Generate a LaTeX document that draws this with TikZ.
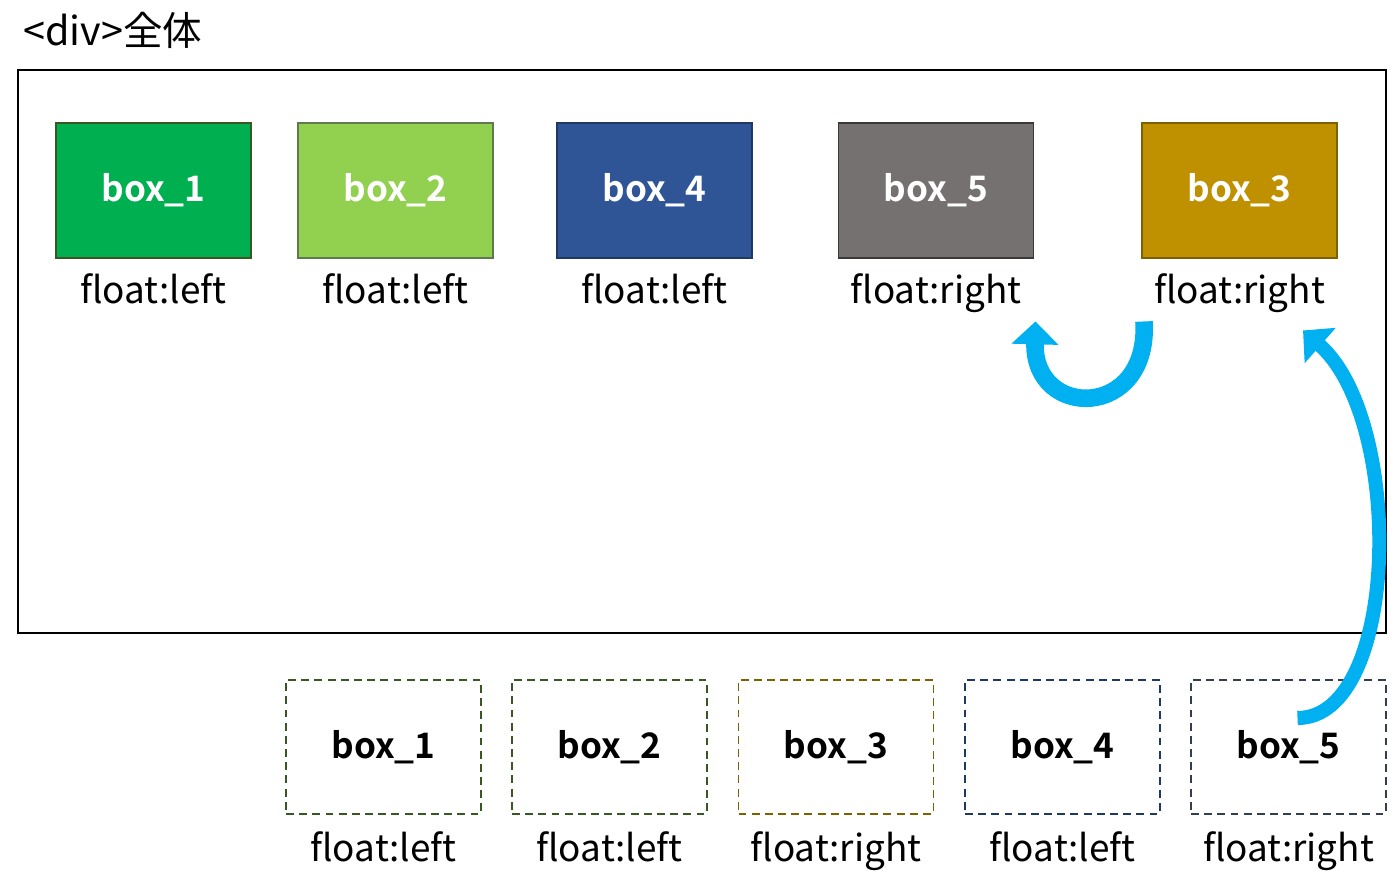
\documentclass[tikz,border=0pt]{standalone}
\usepackage{fontspec}
\setmainfont{Noto Sans CJK JP}[BoldFont={Noto Sans CJK JP Bold}]
\usepackage{xcolor}
\usetikzlibrary{arrows.meta,positioning}

\definecolor{boxgreen}{HTML}{00B050}
\definecolor{boxlime}{HTML}{92D050}
\definecolor{boxblue}{HTML}{2F5597}
\definecolor{boxgray}{HTML}{767171}
\definecolor{boxgold}{HTML}{BF9000}
\definecolor{edgegreen}{HTML}{385723}
\definecolor{edgeblue}{HTML}{203864}
\definecolor{edgegray}{HTML}{3B3838}
\definecolor{edgegold}{HTML}{7F6000}
\definecolor{edgeslate}{HTML}{333F50}
\definecolor{arrowblue}{HTML}{00B0F0}

\tikzset{
	fillbox/.style={draw, line width=1pt, minimum width=3.9cm, minimum height=2.7cm,
		font=\fontsize{20}{24}\selectfont\bfseries, text=white},
	dashbox/.style={draw, line width=1.1pt, dash pattern=on 4.5pt off 3pt,
		minimum width=3.9cm, minimum height=2.68cm, font=\fontsize{20}{24}\selectfont\bfseries},
	floatlbl/.style={font=\fontsize{21}{25}\selectfont, inner sep=1pt},
	bigarrow/.style={color=arrowblue, -{Triangle[width=26pt,length=13pt]}}
}

\begin{document}
\begin{tikzpicture}[x=0.02cm,y=-0.02cm]
			\useasboundingbox (0,0) rectangle (1395,895);
			\node[anchor=base west, inner sep=0pt, font=\fontsize{22.5}{26}\selectfont] (title) at (23,46) {<div>全体};
			\node[draw, line width=1.5pt, minimum width=27.36cm, minimum height=11.26cm] (div) at (702,351.5) {};

			% inside the div
			\node[fillbox, fill=boxgreen, draw=edgegreen] (b1) at (153.5,190.5) {box\_1};
			\node[fillbox, fill=boxlime, draw=edgegreen!80] (b2) at (395.5,190.5) {box\_2};
			\node[fillbox, fill=boxblue, draw=edgeblue] (b4) at (654.5,190.5) {box\_4};
			\node[fillbox, fill=boxgray, draw=edgegray] (b5) at (936,190.5) {box\_5};
			\node[fillbox, fill=boxgold, draw=edgegold] (b3) at (1239.5,190.5) {box\_3};
			\node[floatlbl, below=7pt of b1] (l1) {float:left};
			\node[floatlbl, below=7pt of b2] (l2) {float:left};
			\node[floatlbl, below=7pt of b4] (l4) {float:left};
			\node[floatlbl, below=7pt of b5] (l5) {float:right};
			\node[floatlbl, below=7pt of b3] (l3) {float:right};

			% source order
			\node[dashbox, draw=edgegreen] (d1) at (383.5,747) {box\_1};
			\node[dashbox, draw=edgegreen] (d2) at (609.5,747) {box\_2};
			\node[dashbox, draw=edgegold] (d3) at (836,747) {box\_3};
			\node[dashbox, draw=edgeblue] (d4) at (1062.5,747) {box\_4};
			\node[dashbox, draw=edgeslate] (d5) at (1288.5,747) {box\_5};
			\node[floatlbl, below=8.5pt of d1] (m1) {float:left};
			\node[floatlbl, below=8.5pt of d2] (m2) {float:left};
			\node[floatlbl, below=8.5pt of d3] (m3) {float:right};
			\node[floatlbl, below=8.5pt of d4] (m4) {float:left};
			\node[floatlbl, below=8.5pt of d5] (m5) {float:right};

			\draw[bigarrow, line width=10pt] ([shift={(-8,7)}]l3.south west)
				.. controls (1150,420) and (1033,420) .. ([shift={(12,7)}]l5.south east);
			\draw[bigarrow, line width=8pt] ([shift={(9,-29)}]d5.center)
				.. controls (1400,718) and (1405,420) .. ([shift={(-24,16)}]l3.south east);
\end{tikzpicture}
\end{document}
